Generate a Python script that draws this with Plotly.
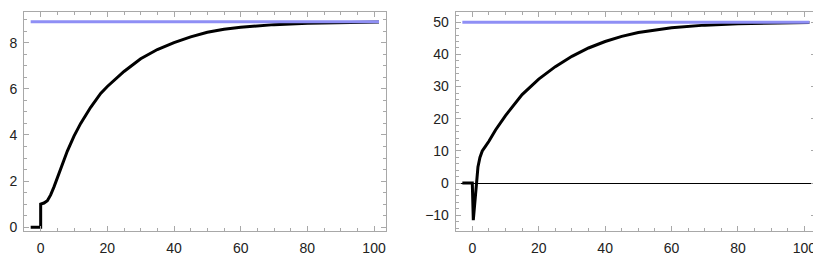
import plotly.graph_objects as go
from plotly.subplots import make_subplots

# left panel: response curve and its limit
left_t = [-3, 0, 0, 1, 2, 3, 4, 5, 6, 8, 10, 12, 15, 18, 20, 25, 30, 35, 40,
          45, 50, 55, 60, 70, 80, 90, 101.5]
left_y = [0, 0, 1.0, 1.05, 1.15, 1.4, 1.75, 2.15, 2.55, 3.3, 3.95, 4.5, 5.2,
          5.8, 6.1, 6.75, 7.3, 7.7, 8.0, 8.25, 8.45, 8.58, 8.67, 8.78, 8.84,
          8.87, 8.89]
left_limit = 8.9

# right panel
right_t = [-3, 0, 0.3, 0.7, 1.2, 1.7, 2.3, 3, 4, 5, 7, 10, 15, 20, 25, 30, 35,
           40, 45, 50, 60, 70, 80, 90, 101.5]
right_y = [0, 0, -11.5, -6, 0, 5, 8, 10, 11.5, 13, 16.5, 21, 27.5, 32.3, 36.2,
           39.4, 42, 44, 45.6, 46.8, 48.3, 49.1, 49.55, 49.8, 49.95]
right_limit = 50

t_span = [-3, 101.5]

# the page body has an 8px margin, so the figure is laid out in shifted pixels
W, H, OFF = 813, 253, 8


def px_x(x):
    return (x - OFF) / W


def px_y(y):
    return 1 - (y - OFF) / H


fig = make_subplots(rows=1, cols=2)

fig.add_trace(go.Scatter(x=left_t, y=left_y, mode="lines",
                         line=dict(color="black", width=3)), row=1, col=1)
fig.add_trace(go.Scatter(x=t_span, y=[left_limit] * 2, mode="lines",
                         line=dict(color="#8f8ff5", width=3)), row=1, col=1)
fig.add_trace(go.Scatter(x=right_t, y=right_y, mode="lines",
                         line=dict(color="black", width=3)), row=1, col=2)
fig.add_trace(go.Scatter(x=t_span, y=[right_limit] * 2, mode="lines",
                         line=dict(color="#8f8ff5", width=3)), row=1, col=2)

frame = dict(showline=True, linecolor="#a8a8a8", linewidth=1, mirror="ticks",
             ticks="inside", tickcolor="#a8a8a8", ticklen=5, tickwidth=1,
             showgrid=False, tickfont=dict(family="Liberation Sans", size=14, color="#222"))

fig.update_xaxes(**frame, range=[-5, 103.5], dtick=20, tick0=0, zeroline=False,
                 ticklabelstandoff=4,
                 minor=dict(dtick=5, ticks="inside", ticklen=3, tickcolor="#a8a8a8", showgrid=False))
fig.update_xaxes(domain=[px_x(24), px_x(385.7)], row=1, col=1)
fig.update_xaxes(domain=[px_x(455.7), px_x(816)], row=1, col=2)

fig.update_yaxes(**frame, domain=[px_y(234.3), px_y(12)], ticklabelstandoff=3)
fig.update_yaxes(range=[-0.15, 9.33], dtick=2, tick0=0, zeroline=False,
                 minor=dict(dtick=0.5, ticks="inside", ticklen=3, tickcolor="#a8a8a8", showgrid=False),
                 row=1, col=1)
fig.update_yaxes(range=[-14.8, 53.2], dtick=10, tick0=0, zeroline=True,
                 zerolinecolor="black", zerolinewidth=1,
                 minor=dict(dtick=2, ticks="inside", ticklen=3, tickcolor="#a8a8a8", showgrid=False),
                 row=1, col=2)

fig.update_layout(width=W, height=H, showlegend=False,
                  margin=dict(l=0, r=0, t=0, b=0),
                  paper_bgcolor="white", plot_bgcolor="white")

fig.write_html("out.html")
